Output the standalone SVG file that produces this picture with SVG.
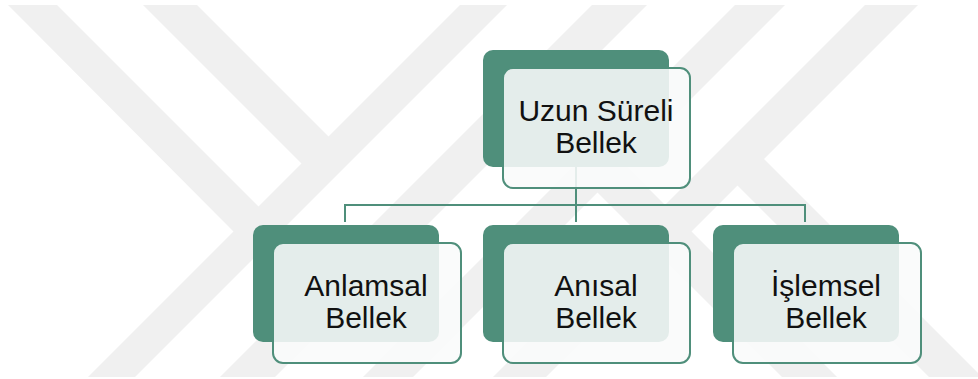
<svg xmlns="http://www.w3.org/2000/svg" width="978" height="379" viewBox="0 0 978 379">
  <style>
    .wm { fill: #f0f0f0; }
    .back { fill: #4f8f7b; }
    .front { fill: #f9fbfa; fill-opacity: 0.88; stroke: #4f8f7b; stroke-width: 2; }
    .conn { fill: none; stroke: #4f8f7b; stroke-width: 2; }
    .lbl { font-family: "Liberation Sans", Arial, sans-serif; font-size: 30px; fill: #111111; text-anchor: middle; }
  </style>
  <rect width="978" height="379" fill="#ffffff"/>
  <g id="watermark">
    <polygon class="wm" points="460,5 507,5 135,377 88,377"/>
    <polygon class="wm" points="592,5 647,5 275,377 220,377"/>
    <polygon class="wm" points="735,5 785,5 413,377 363,377"/>
    <polygon class="wm" points="865,5 918,5 546,377 493,377"/>
    <polygon class="wm" points="8,5 57,5 261,209 236,234"/>
    <polygon class="wm" points="143,5 197,5 331,139 304,166"/>
    <polygon class="wm" points="595,190 622.5,162.5 837,377 782,377"/>
    <polygon class="wm" points="735,183 761.5,156.5 982,377 929,377"/>
  </g>
  <g id="connectors">
    <path class="conn" d="M576,167 V205 M345,222 V205 H805 V222 M576,205 V222"/>
  </g>
  <g id="node-uzun">
    <rect class="back" x="483" y="50" width="186" height="117" rx="10"/>
    <rect class="front" x="503" y="68" width="187" height="120" rx="10"/>
    <text class="lbl" x="596" y="121">Uzun Süreli</text>
    <text class="lbl" x="596" y="153">Bellek</text>
  </g>
  <g id="node-anlamsal">
    <rect class="back" x="253" y="225" width="186" height="117" rx="10"/>
    <rect class="front" x="273" y="243" width="188" height="120" rx="10"/>
    <text class="lbl" x="366" y="296">Anlamsal</text>
    <text class="lbl" x="366" y="328">Bellek</text>
  </g>
  <g id="node-anisal">
    <rect class="back" x="483" y="225" width="186" height="117" rx="10"/>
    <rect class="front" x="503" y="243" width="187" height="120" rx="10"/>
    <text class="lbl" x="596" y="296">Anısal</text>
    <text class="lbl" x="596" y="328">Bellek</text>
  </g>
  <g id="node-islemsel">
    <rect class="back" x="713" y="225" width="186" height="117" rx="10"/>
    <rect class="front" x="733" y="243" width="188" height="120" rx="10"/>
    <text class="lbl" x="826" y="296">İşlemsel</text>
    <text class="lbl" x="826" y="328">Bellek</text>
  </g>
</svg>
